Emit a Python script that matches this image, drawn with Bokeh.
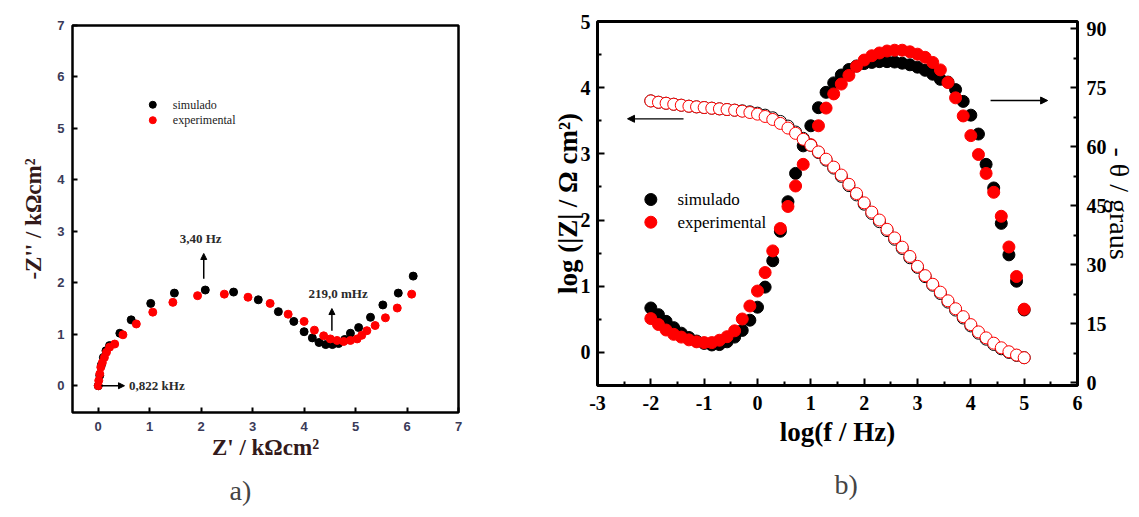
from bokeh.plotting import figure
from bokeh.layouts import row
from bokeh.models import Range1d, LinearAxis, FixedTicker, Label, Arrow, NormalHead, Title
from bokeh.embed import file_html
from bokeh.resources import INLINE

# ---------------- Panel a) Nyquist data (kOhm cm2) ----------------
sim_zre = [0.0, 0.03, 0.06, 0.10, 0.15, 0.22, 0.42, 0.64, 1.02, 1.48, 2.08, 2.63, 3.11, 3.50,
           3.80, 4.00, 4.16, 4.29, 4.42, 4.55, 4.67, 4.79, 4.90, 5.06, 5.29, 5.53, 5.83, 6.12]
sim_zim = [0.0, 0.20, 0.40, 0.55, 0.68, 0.78, 1.02, 1.28, 1.60, 1.80, 1.86, 1.82, 1.67, 1.44,
           1.25, 1.05, 0.93, 0.84, 0.80, 0.80, 0.82, 0.90, 1.02, 1.13, 1.33, 1.57, 1.80, 2.13]
exp_zre = [0.0, 0.01, 0.03, 0.05, 0.08, 0.12, 0.16, 0.22, 0.32, 0.48, 0.74, 1.06, 1.45, 1.93,
           2.45, 2.91, 3.34, 3.69, 4.00, 4.20, 4.38, 4.51, 4.64, 4.77, 4.90, 5.03, 5.12, 5.22,
           5.38, 5.58, 5.81, 6.09]
exp_zim = [0.0, 0.10, 0.23, 0.36, 0.45, 0.55, 0.65, 0.75, 0.81, 0.99, 1.20, 1.43, 1.62, 1.75,
           1.78, 1.72, 1.60, 1.39, 1.25, 1.08, 0.97, 0.91, 0.88, 0.86, 0.88, 0.91, 0.98, 1.07,
           1.17, 1.32, 1.51, 1.78]
a_ticks = [0, 1, 2, 3, 4, 5, 6, 7]

# ---------------- Panel b) Bode data ----------------
logf = [-2.0, -1.857, -1.714, -1.571, -1.429, -1.286, -1.143, -1.0, -0.857, -0.714, -0.571,
        -0.429, -0.286, -0.143, 0.0, 0.143, 0.286, 0.429, 0.571, 0.714, 0.857, 1.0, 1.143,
        1.286, 1.429, 1.571, 1.714, 1.857, 2.0, 2.143, 2.286, 2.429, 2.571, 2.714, 2.857, 3.0,
        3.143, 3.286, 3.429, 3.571, 3.714, 3.857, 4.0, 4.143, 4.286, 4.429, 4.571, 4.714,
        4.857, 5.0]
logz_exp = [3.80, 3.78, 3.765, 3.75, 3.735, 3.72, 3.71, 3.70, 3.69, 3.68, 3.67, 3.66, 3.645,
            3.625, 3.60, 3.565, 3.52, 3.46, 3.39, 3.31, 3.22, 3.13, 3.03, 2.92, 2.80, 2.68,
            2.54, 2.40, 2.26, 2.12, 2.00, 1.86, 1.73, 1.59, 1.45, 1.30, 1.16, 1.03, 0.91, 0.78,
            0.66, 0.54, 0.42, 0.31, 0.22, 0.14, 0.07, 0.01, -0.04, -0.08]
logz_sim = [3.80, 3.78, 3.765, 3.75, 3.735, 3.72, 3.71, 3.70, 3.69, 3.68, 3.67, 3.66, 3.65,
            3.635, 3.615, 3.585, 3.545, 3.49, 3.42, 3.33, 3.235, 3.13, 3.02, 2.905, 2.785,
            2.66, 2.52, 2.38, 2.24, 2.10, 1.975, 1.84, 1.71, 1.57, 1.43, 1.285, 1.145, 1.015,
            0.89, 0.76, 0.64, 0.52, 0.40, 0.29, 0.20, 0.12, 0.055, 0.0, -0.045, -0.08]
phase_exp = [16.3, 14.8, 13.4, 12.3, 11.6, 10.9, 10.4, 10.2, 10.2, 10.8, 11.7, 13.2, 16.2,
             19.5, 23.3, 28.0, 33.5, 39.2, 44.8, 50.0, 55.5, 60.5, 65.3, 69.8, 73.4, 75.9,
             78.1, 80.4, 82.0, 83.1, 83.8, 84.3, 84.5, 84.5, 84.1, 83.5, 82.7, 81.4, 79.5,
             76.3, 72.4, 67.8, 62.8, 58.0, 53.2, 48.4, 42.3, 34.5, 27.0, 18.7]
phase_sim = [19.0, 17.3, 15.6, 14.0, 12.6, 11.5, 10.6, 10.0, 9.6, 9.7, 10.4, 11.6, 13.3, 15.9,
             19.2, 24.3, 31.0, 38.5, 46.0, 53.2, 60.2, 65.3, 69.9, 73.8, 76.2, 78.2, 79.6,
             80.5, 81.1, 81.4, 81.6, 81.6, 81.5, 81.2, 80.8, 80.2, 79.4, 78.4, 77.1, 76.4,
             74.5, 71.5, 68.0, 63.2, 55.5, 49.5, 40.5, 32.5, 25.8, 18.5]
b_xticks = [-3, -2, -1, 0, 1, 2, 3, 4, 5, 6]
b_xminor = [-2.5, -1.5, -0.5, 0.5, 1.5, 2.5, 3.5, 4.5, 5.5]
b_yticks = [0, 1, 2, 3, 4, 5]
b_yminor = [0.5, 1.5, 2.5, 3.5, 4.5]
b_rticks = [0, 15, 30, 45, 60, 75, 90]
b_rminor = [7.5, 22.5, 37.5, 52.5, 67.5, 82.5]

SERIF = "Liberation Serif"
SANS = "Liberation Sans"
RED = "#ff0000"
TITLE_A = "#331a1a"


def txt(p, x, y, text, size, style="normal", align="left", color="black"):
    p.add_layout(Label(x=x, y=y, text=text, text_font=SERIF, text_font_size=f"{size}px",
                       text_font_style=style, text_align=align, text_baseline="middle",
                       text_color=color))


def style_axis(ax, ticks, minor, size, font, style, color, standoff, tin, minor_in):
    ax.ticker = FixedTicker(ticks=ticks, minor_ticks=minor)
    ax.major_label_overrides = {t: str(t) for t in ticks}
    ax.axis_line_color = None
    ax.major_tick_in = tin
    ax.major_tick_out = 0
    ax.major_tick_line_width = 2
    ax.minor_tick_in = minor_in
    ax.minor_tick_out = 0
    ax.minor_tick_line_width = 2
    ax.major_label_text_font = font
    ax.major_label_text_font_size = f"{size}px"
    ax.major_label_text_font_style = style
    ax.major_label_text_color = color
    ax.major_label_standoff = standoff


def title_axis(ax, text, size, style, standoff, color="black"):
    ax.axis_label = text
    ax.axis_label_text_font = SERIF
    ax.axis_label_text_font_size = f"{size}px"
    ax.axis_label_text_font_style = style
    ax.axis_label_text_color = color
    ax.axis_label_standoff = standoff


def no_align(p):
    try:
        p.frame_align = False
    except Exception:
        pass


# ================= Panel a =================
p1 = figure(width=490, height=517, x_range=Range1d(-0.5, 7.0), y_range=Range1d(-0.52, 7.0),
            output_backend="svg", toolbar_location=None,
            min_border_left=72, min_border_right=32, min_border_top=25, min_border_bottom=105)
no_align(p1)
p1.xgrid.visible = False
p1.ygrid.visible = False
p1.outline_line_color = "black"
p1.outline_line_width = 2.5
for ax in (p1.xaxis[0], p1.yaxis[0]):
    style_axis(ax, a_ticks, [], 13, SANS, "bold", "#3a3a58", 8, 5, 0)
p1.xaxis[0].major_label_standoff = 9
title_axis(p1.xaxis[0], "Z' / k\u03a9cm\u00b2", 23, "bold", 1, TITLE_A)
title_axis(p1.yaxis[0], "-Z'' / k\u03a9cm\u00b2", 23, "bold", 8, TITLE_A)

p1.scatter(sim_zre, sim_zim, size=8, color="black")
p1.scatter(exp_zre, exp_zim, size=8, color=RED)

# legend a
p1.scatter([1.06], [5.46], size=7, color="black")
p1.scatter([1.06], [5.16], size=7, color=RED)
txt(p1, 1.45, 5.46, "simulado", 12, color="#222222")
txt(p1, 1.45, 5.16, "experimental", 12, color="#222222")

# annotations a
txt(p1, 1.99, 2.86, "3,40 Hz", 13, style="bold", align="center", color="#2a2a2a")
txt(p1, 4.66, 1.80, "219,0 mHz", 13, style="bold", align="center", color="#2a2a2a")
txt(p1, 0.60, 0.0, "0,822 kHz", 13, style="bold", align="left", color="#2a2a2a")
for (xs, ys, xe, ye) in [(2.05, 2.08, 2.05, 2.57), (4.54, 1.07, 4.54, 1.50), (0.06, 0.0, 0.51, 0.0)]:
    p1.add_layout(Arrow(end=NormalHead(size=6, fill_color="black", line_color="black"),
                        x_start=xs, y_start=ys, x_end=xe, y_end=ye, line_width=1.5))

p1.add_layout(Title(text="a)", align="left", offset=157, standoff=21, text_font=SERIF,
                    text_font_size="28px", text_font_style="normal"), "below")

# ================= Panel b =================
p2 = figure(width=649, height=517, x_range=Range1d(-3, 6), y_range=Range1d(-0.5, 5.0),
            output_backend="svg", toolbar_location=None,
            min_border_left=107, min_border_right=62, min_border_top=21, min_border_bottom=132)
no_align(p2)
p2.extra_y_ranges = {"phase": Range1d(-0.7, 91.8)}
p2.xgrid.visible = False
p2.ygrid.visible = False
p2.outline_line_color = "black"
p2.outline_line_width = 3
rax = LinearAxis(y_range_name="phase")
p2.add_layout(rax, "right")
style_axis(p2.xaxis[0], b_xticks, b_xminor, 20, SERIF, "bold", "black", 10, 7, 4)
style_axis(p2.yaxis[0], b_yticks, b_yminor, 20, SERIF, "bold", "black", 7, 7, 4)
style_axis(rax, b_rticks, b_rminor, 20, SERIF, "bold", "black", 9, 7, 4)
title_axis(p2.xaxis[0], "log(f / Hz)", 27, "bold", 4)
title_axis(p2.yaxis[0], "log (|Z| / \u03a9 cm\u00b2)", 27, "bold", -5)
title_axis(rax, "- \u03b8 / graus", 28, "normal", -6)

p2.scatter(logf, phase_sim, size=12, color="black", y_range_name="phase")
p2.scatter(logf, phase_exp, size=12, color=RED, y_range_name="phase")
p2.scatter(logf, logz_sim, size=12, fill_color="white", line_color="black", line_width=1)
p2.scatter(logf, logz_exp, size=12, fill_color="white", line_color=RED, line_width=1)

# legend b
p2.scatter([-2.0], [2.31], size=12, color="black")
p2.scatter([-2.0], [1.967], size=12, color=RED)
txt(p2, -1.5, 2.31, "simulado", 17)
txt(p2, -1.5, 1.967, "experimental", 17)

# arrows b
p2.add_layout(Arrow(end=NormalHead(size=7, fill_color="black", line_color="black"),
                    x_start=-1.387, y_start=3.53, x_end=-2.437, y_end=3.53, line_width=1.3))
p2.add_layout(Arrow(end=NormalHead(size=7, fill_color="black", line_color="black"),
                    x_start=4.37, y_start=3.806, x_end=5.44, y_end=3.806, line_width=1.3))

p2.add_layout(Title(text="b)", align="left", offset=237, standoff=34, text_font=SERIF,
                    text_font_size="28px", text_font_style="normal"), "below")

layout = row(p1, p2)
open("out.html", "w").write(file_html(layout, INLINE))
